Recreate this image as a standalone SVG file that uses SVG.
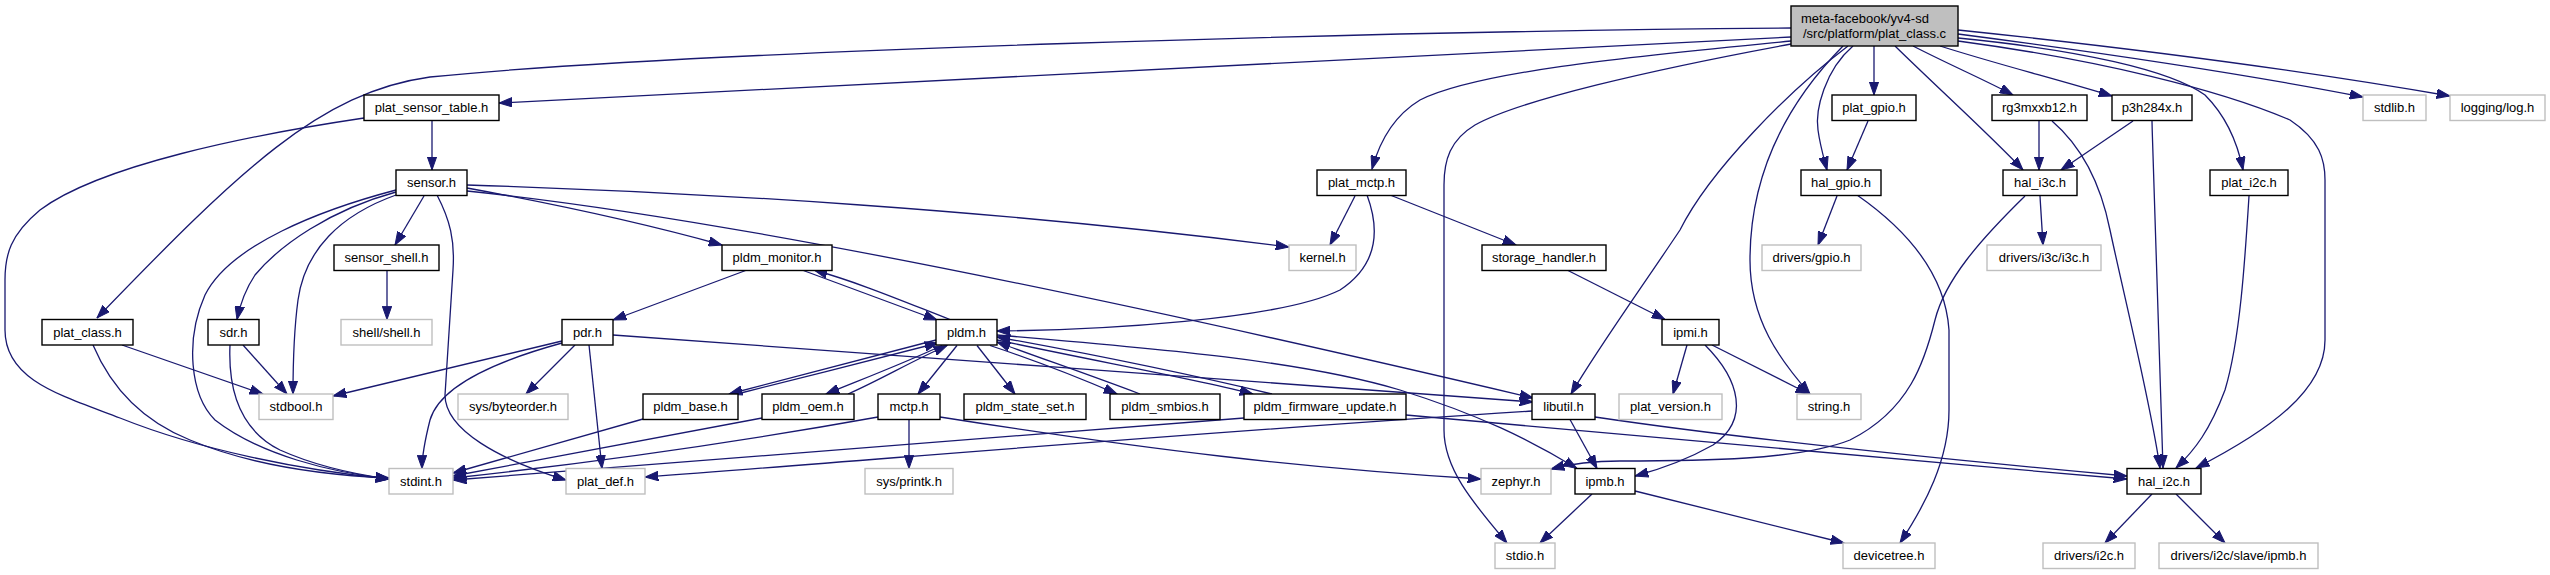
<svg xmlns="http://www.w3.org/2000/svg" width="2550" height="575" viewBox="0 0 2550 575">
<style>
.nd rect{fill:#ffffff;stroke:#000000;stroke-width:1.4}
.gr rect{fill:#ffffff;stroke:#bfbfbf;stroke-width:1.4}
.mn rect{fill:#bfbfbf;stroke:#000000;stroke-width:1.4}
text{font-family:"Liberation Sans",Arial,sans-serif;font-size:13px;fill:#000000;text-anchor:middle}
.e path{fill:none;stroke:#191970;stroke-width:1.3;marker-end:url(#a)}
</style>
<defs>
<marker id="a" markerUnits="userSpaceOnUse" markerWidth="14" markerHeight="10" viewBox="0 0 14 10" refX="13.3" refY="5" orient="auto">
<path d="M0,0.3 L13.3,5 L0,9.7 Z" fill="#191970" stroke="#191970" stroke-width="1"/>
</marker>
</defs>
<rect width="2550" height="575" fill="#ffffff"/>
<g id="edges" class="e">
<path d="M1791,28 C1400,31 700,50 430,77 C320,92 240,170 97,318"/>
<path d="M1791,37 C1500,48 1000,75 499,103"/>
<path d="M1791,41 C1650,55 1480,70 1420,100 C1395,115 1380,140 1372,169"/>
<path d="M1791,44 C1650,70 1520,100 1475,125 C1450,140 1444,160 1444,185 L1444,430 C1444,470 1475,505 1507,543"/>
<path d="M1848,46 C1790,90 1710,170 1680,230 C1640,290 1600,345 1571,394"/>
<path d="M1853,46 C1825,70 1815,110 1818,130 C1820,145 1823,155 1827,170"/>
<path d="M1843,46 C1790,100 1750,170 1750,260 C1750,320 1780,360 1810,394"/>
<path d="M1874,46 L1874,95"/>
<path d="M1895,46 C1940,90 1990,135 2023,170"/>
<path d="M1913,46 C1950,65 1985,80 2013,95"/>
<path d="M1940,46 C2000,65 2060,80 2112,96"/>
<path d="M1958,30 C2150,50 2300,70 2450,96"/>
<path d="M1958,34 C2120,55 2250,75 2363,97"/>
<path d="M1958,38 C2080,50 2170,70 2205,95 C2225,115 2237,140 2243,170"/>
<path d="M1958,41 C2100,60 2220,90 2290,120 C2320,140 2325,160 2325,180 L2325,340 C2325,390 2270,430 2196,468"/>
<path d="M1837,196 L1818,245"/>
<path d="M1857,195 C1900,225 1945,270 1949,330 L1949,410 C1949,460 1925,505 1900,543"/>
<path d="M1868,121 L1847,170"/>
<path d="M2039,121 L2039,170"/>
<path d="M2052,121 C2080,145 2100,180 2110,230 C2125,300 2150,400 2160,468"/>
<path d="M2133,121 L2061,170"/>
<path d="M2152,121 C2155,250 2160,380 2163,468"/>
<path d="M2040,196 L2043,245"/>
<path d="M2025,196 C1980,240 1945,280 1935,320 C1925,360 1910,410 1850,440 C1800,460 1700,461 1620,461 C1590,461 1570,464 1551,469"/>
<path d="M2249,196 C2245,260 2240,340 2225,390 C2210,430 2195,450 2176,468"/>
<path d="M2152,494 L2105,543"/>
<path d="M2176,494 L2225,543"/>
<path d="M432,121 L432,170"/>
<path d="M364,118 C250,135 100,165 40,210 C10,235 5,255 5,280 L5,330 C5,380 60,395 120,418 C200,450 300,470 389,479"/>
<path d="M424,196 L395,245"/>
<path d="M387,270 L387,319.5"/>
<path d="M396,190 C320,210 230,245 205,295 C185,340 190,395 215,420 C260,455 330,472 389,479"/>
<path d="M396,192 C330,210 280,245 255,275 C245,290 240,305 237,319.5"/>
<path d="M396,195 C340,215 305,250 298,300 C294,330 293,360 293,394"/>
<path d="M437,195 C450,220 455,240 453,270 L445,395 C445,430 500,460 566,480"/>
<path d="M467,188 C560,205 650,225 722,245"/>
<path d="M467,185 C700,192 1000,210 1289,247"/>
<path d="M467,191 Q800,225 1533,398"/>
<path d="M1355,196 L1330,245"/>
<path d="M1390,195 L1516,245"/>
<path d="M1367,195 C1380,230 1378,265 1340,290 C1280,320 1100,330 997,331"/>
<path d="M1567,270 L1665,319.5"/>
<path d="M1687,345 L1673,394"/>
<path d="M1712,345 L1809,394"/>
<path d="M1705,345 C1740,380 1750,420 1713,445 C1690,458 1665,468 1635,476"/>
<path d="M747,270 L613,320"/>
<path d="M802,270 C850,288 895,304 937,320"/>
<path d="M950,319.5 C900,300 860,283 814,270"/>
<path d="M936,340 C870,357 800,375 729,394"/>
<path d="M737,394 C800,378 880,358 938,343"/>
<path d="M942,345.5 C900,365 860,380 826,394"/>
<path d="M848,394 C880,380 910,362 947,345.5"/>
<path d="M957,345.5 L918,394"/>
<path d="M977,345.5 L1015,394"/>
<path d="M990,345.5 C1040,362 1080,378 1117,394"/>
<path d="M1140,394 C1090,375 1040,358 997,342"/>
<path d="M997,340 C1100,362 1200,380 1253,394"/>
<path d="M1272,394 C1180,372 1080,352 997,337"/>
<path d="M997,335 C1150,348 1300,360 1400,390 C1480,415 1530,440 1577,468.5"/>
<path d="M613,335 C900,355 1250,382 1533,402"/>
<path d="M562,341 L333,396"/>
<path d="M562,343 C500,360 440,385 430,420 C425,440 422,455 422,468.5"/>
<path d="M575,345 L526,394"/>
<path d="M589,345 L602,468.5"/>
<path d="M643,419 L453,473"/>
<path d="M762,418 L453,476"/>
<path d="M878,417 C750,440 600,462 453,478"/>
<path d="M909,419.5 L909,468.5"/>
<path d="M940,417 C1150,450 1300,468 1481,479"/>
<path d="M1244,418 L453,480"/>
<path d="M1406,415 C1700,440 1900,460 2127,479"/>
<path d="M1595,417 C1750,440 1950,460 2127,476"/>
<path d="M1570,419.5 L1597,468.5"/>
<path d="M1533,411 C1200,432 900,458 645,477"/>
<path d="M1592,494 L1540,543"/>
<path d="M1635,491 L1844,543"/>
<path d="M93,345 C110,385 140,420 190,440 C250,465 320,475 389,478"/>
<path d="M122,345 L263,394"/>
<path d="M243,345 L287,394"/>
<path d="M230,345 C228,390 240,430 280,450 C320,468 360,475 389,479"/>
</g>
<g id="n-main" class="mn"><rect x="1791" y="6" width="167" height="40"/><text x="1801" y="22.5" style="text-anchor:start">meta-facebook/yv4-sd</text><text x="1874.5" y="37.5">/src/platform/plat_class.c</text></g>
<g id="n-plat_sensor_table" class="nd"><rect x="364" y="95" width="135" height="25.5"/><text x="431.5" y="112">plat_sensor_table.h</text></g>
<g id="n-plat_gpio" class="nd"><rect x="1832" y="95" width="84" height="25.5"/><text x="1874" y="112">plat_gpio.h</text></g>
<g id="n-rg3mxxb12" class="nd"><rect x="1992" y="95" width="95" height="25.5"/><text x="2039.5" y="112">rg3mxxb12.h</text></g>
<g id="n-p3h284x" class="nd"><rect x="2112" y="95" width="80" height="25.5"/><text x="2152" y="112">p3h284x.h</text></g>
<g id="n-stdlib" class="gr"><rect x="2363" y="95" width="63" height="25.5"/><text x="2394.5" y="112">stdlib.h</text></g>
<g id="n-logging_log" class="gr"><rect x="2450" y="95" width="95" height="25.5"/><text x="2497.5" y="112">logging/log.h</text></g>
<g id="n-sensor" class="nd"><rect x="396" y="170" width="71" height="25.5"/><text x="431.5" y="187">sensor.h</text></g>
<g id="n-plat_mctp" class="nd"><rect x="1317" y="170" width="89" height="25.5"/><text x="1361.5" y="187">plat_mctp.h</text></g>
<g id="n-hal_gpio" class="nd"><rect x="1801" y="170" width="80" height="25.5"/><text x="1841" y="187">hal_gpio.h</text></g>
<g id="n-hal_i3c" class="nd"><rect x="2003" y="170" width="74" height="25.5"/><text x="2040" y="187">hal_i3c.h</text></g>
<g id="n-plat_i2c" class="nd"><rect x="2210" y="170" width="78" height="25.5"/><text x="2249" y="187">plat_i2c.h</text></g>
<g id="n-sensor_shell" class="nd"><rect x="334" y="245" width="105" height="25.5"/><text x="386.5" y="262">sensor_shell.h</text></g>
<g id="n-pldm_monitor" class="nd"><rect x="722" y="245" width="110" height="25.5"/><text x="777" y="262">pldm_monitor.h</text></g>
<g id="n-kernel" class="gr"><rect x="1289" y="245" width="67" height="25.5"/><text x="1322.5" y="262">kernel.h</text></g>
<g id="n-storage_handler" class="nd"><rect x="1482" y="245" width="124" height="25.5"/><text x="1544" y="262">storage_handler.h</text></g>
<g id="n-drivers_gpio" class="gr"><rect x="1762" y="245" width="99" height="25.5"/><text x="1811.5" y="262">drivers/gpio.h</text></g>
<g id="n-drivers_i3c" class="gr"><rect x="1987" y="245" width="114" height="25.5"/><text x="2044" y="262">drivers/i3c/i3c.h</text></g>
<g id="n-plat_class" class="nd"><rect x="42" y="319.5" width="91" height="25.5"/><text x="87.5" y="336.5">plat_class.h</text></g>
<g id="n-sdr" class="nd"><rect x="208" y="319.5" width="51" height="25.5"/><text x="233.5" y="336.5">sdr.h</text></g>
<g id="n-shell" class="gr"><rect x="341" y="319.5" width="91" height="25.5"/><text x="386.5" y="336.5">shell/shell.h</text></g>
<g id="n-pdr" class="nd"><rect x="562" y="319.5" width="51" height="25.5"/><text x="587.5" y="336.5">pdr.h</text></g>
<g id="n-pldm" class="nd"><rect x="936" y="319.5" width="61" height="25.5"/><text x="966.5" y="336.5">pldm.h</text></g>
<g id="n-ipmi" class="nd"><rect x="1662" y="319.5" width="57" height="25.5"/><text x="1690.5" y="336.5">ipmi.h</text></g>
<g id="n-stdbool" class="gr"><rect x="259" y="394" width="74" height="25.5"/><text x="296" y="411">stdbool.h</text></g>
<g id="n-byteorder" class="gr"><rect x="458" y="394" width="110" height="25.5"/><text x="513" y="411">sys/byteorder.h</text></g>
<g id="n-pldm_base" class="nd"><rect x="643" y="394" width="95" height="25.5"/><text x="690.5" y="411">pldm_base.h</text></g>
<g id="n-pldm_oem" class="nd"><rect x="762" y="394" width="92" height="25.5"/><text x="808" y="411">pldm_oem.h</text></g>
<g id="n-mctp" class="nd"><rect x="878" y="394" width="62" height="25.5"/><text x="909" y="411">mctp.h</text></g>
<g id="n-pldm_state_set" class="nd"><rect x="964" y="394" width="122" height="25.5"/><text x="1025" y="411">pldm_state_set.h</text></g>
<g id="n-pldm_smbios" class="nd"><rect x="1110" y="394" width="110" height="25.5"/><text x="1165" y="411">pldm_smbios.h</text></g>
<g id="n-pldm_firmware_update" class="nd"><rect x="1244" y="394" width="162" height="25.5"/><text x="1325" y="411">pldm_firmware_update.h</text></g>
<g id="n-libutil" class="nd"><rect x="1532" y="394" width="63" height="25.5"/><text x="1563.5" y="411">libutil.h</text></g>
<g id="n-plat_version" class="gr"><rect x="1619" y="394" width="103" height="25.5"/><text x="1670.5" y="411">plat_version.h</text></g>
<g id="n-string" class="gr"><rect x="1797" y="394" width="64" height="25.5"/><text x="1829" y="411">string.h</text></g>
<g id="n-stdint" class="gr"><rect x="389" y="468.5" width="64" height="25.5"/><text x="421" y="485.5">stdint.h</text></g>
<g id="n-plat_def" class="gr"><rect x="566" y="468.5" width="79" height="25.5"/><text x="605.5" y="485.5">plat_def.h</text></g>
<g id="n-printk" class="gr"><rect x="865" y="468.5" width="88" height="25.5"/><text x="909" y="485.5">sys/printk.h</text></g>
<g id="n-zephyr" class="gr"><rect x="1481" y="468.5" width="70" height="25.5"/><text x="1516" y="485.5">zephyr.h</text></g>
<g id="n-ipmb" class="nd"><rect x="1575" y="468.5" width="60" height="25.5"/><text x="1605" y="485.5">ipmb.h</text></g>
<g id="n-hal_i2c" class="nd"><rect x="2127" y="468.5" width="74" height="25.5"/><text x="2164" y="485.5">hal_i2c.h</text></g>
<g id="n-stdio" class="gr"><rect x="1495" y="543" width="60" height="25.5"/><text x="1525" y="560">stdio.h</text></g>
<g id="n-devicetree" class="gr"><rect x="1843" y="543" width="92" height="25.5"/><text x="1889" y="560">devicetree.h</text></g>
<g id="n-drivers_i2c" class="gr"><rect x="2043" y="543" width="92" height="25.5"/><text x="2089" y="560">drivers/i2c.h</text></g>
<g id="n-drivers_i2c_slave_ipmb" class="gr"><rect x="2159" y="543" width="159" height="25.5"/><text x="2238.5" y="560">drivers/i2c/slave/ipmb.h</text></g>
</svg>
